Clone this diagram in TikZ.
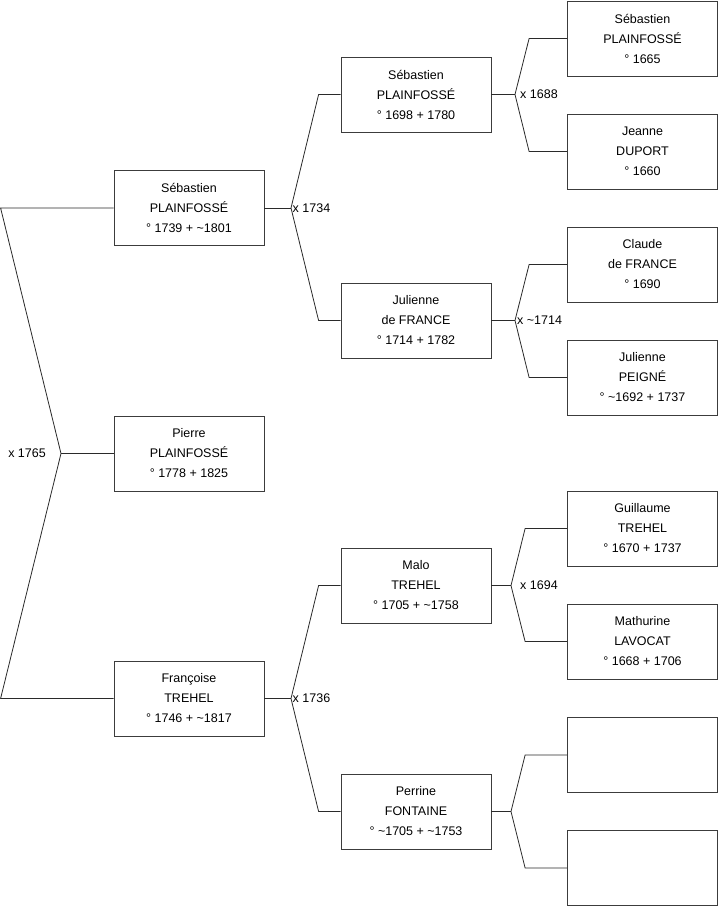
\documentclass[tikz,border=0pt]{standalone}
\usepackage{fontspec}
\setmainfont{Liberation Sans}
\usepackage{tikz}
\usetikzlibrary{positioning}
\definecolor{boxline}{HTML}{3C3C3C}
\definecolor{linkline}{HTML}{2A2A2A}
\tikzset{
  person/.style={draw=boxline, line width=0.8pt, fill=white, align=center, minimum width=150pt, minimum height=75pt, inner sep=0pt, font=\fontsize{12.5}{20}\selectfont},
  link/.style={draw=linkline, line width=0.8pt},
  wedding/.style={inner sep=0pt, font=\fontsize{12.5}{15}\selectfont}
}
\begin{document}
\begin{tikzpicture}[x=1pt, y=-1pt]
  \useasboundingbox[fill=white] (0,0) rectangle (719,908);
  % generation 1
  \node[person] (sebB) at (189,208) {Sébastien\\PLAINFOSSÉ\\° 1739 + \textasciitilde1801};
  \node[person] (pierre) at (189,453.5) {Pierre\\PLAINFOSSÉ\\° 1778 + 1825};
  \node[person] (franc) at (189,698.5) {Françoise\\TREHEL\\° 1746 + \textasciitilde1817};
  % generation 2
  \node[person] (sebC) at (416,94.5) {Sébastien\\PLAINFOSSÉ\\° 1698 + 1780};
  \node[person] (julB) at (416,320.5) {Julienne\\de FRANCE\\° 1714 + 1782};
  \node[person] (malo) at (416,585.5) {Malo\\TREHEL\\° 1705 + \textasciitilde1758};
  \node[person] (perrine) at (416,811.5) {Perrine\\FONTAINE\\° \textasciitilde1705 + \textasciitilde1753};
  % generation 3
  \node[person] (sebD) at (642.5,38.5) {Sébastien\\PLAINFOSSÉ\\° 1665};
  \node[person] (jeanne) at (642.5,151.5) {Jeanne\\DUPORT\\° 1660};
  \node[person] (claude) at (642.5,264.5) {Claude\\de FRANCE\\° 1690};
  \node[person] (julC) at (642.5,377.5) {Julienne\\PEIGNÉ\\° \textasciitilde1692 + 1737};
  \node[person] (guil) at (642.5,528.5) {Guillaume\\TREHEL\\° 1670 + 1737};
  \node[person] (math) at (642.5,641.5) {Mathurine\\LAVOCAT\\° 1668 + 1706};
  \node[person] (empA) at (642.5,755) {};
  \node[person] (empB) at (642.5,868) {};
  % marriage points
  \coordinate (m1765) at (61,453.5);
  \coordinate (m1734) at (291,208);
  \coordinate (m1736) at (291,698.5);
  \coordinate (m1688) at (515,94.5);
  \coordinate (m1714) at (515,320.5);
  \coordinate (m1694) at (511,585.5);
  \coordinate (mnone) at (511,811.5);
  \node[wedding, left=15pt of m1765] (l1765) {x 1765};
  \node[wedding, right=1.5pt of m1734] (l1734) {x 1734};
  \node[wedding, right=1.5pt of m1736] (l1736) {x 1736};
  \node[wedding, right=5pt of m1688] (l1688) {x 1688};
  \node[wedding, right=2pt of m1714] (l1714) {x \textasciitilde1714};
  \node[wedding, right=9pt of m1694] (l1694) {x 1694};
  % connectors
  \draw[link] (sebB.west) -- ++(-113,0) -- (m1765);
  \draw[link] (franc.west) -- ++(-113,0) -- (m1765);
  \draw[link] (m1765) -- (pierre.west);
  \draw[link] (sebB.east) -- (m1734);
  \draw[link] (sebC.west) -- ++(-22,0) -- (m1734);
  \draw[link] (julB.west) -- ++(-22,0) -- (m1734);
  \draw[link] (franc.east) -- (m1736);
  \draw[link] (malo.west) -- ++(-22,0) -- (m1736);
  \draw[link] (perrine.west) -- ++(-22,0) -- (m1736);
  \draw[link] (sebC.east) -- (m1688);
  \draw[link] (sebD.west) -- ++(-38,0) -- (m1688);
  \draw[link] (jeanne.west) -- ++(-38,0) -- (m1688);
  \draw[link] (julB.east) -- (m1714);
  \draw[link] (claude.west) -- ++(-38,0) -- (m1714);
  \draw[link] (julC.west) -- ++(-38,0) -- (m1714);
  \draw[link] (malo.east) -- (m1694);
  \draw[link] (guil.west) -- ++(-42,0) -- (m1694);
  \draw[link] (math.west) -- ++(-42,0) -- (m1694);
  \draw[link] (perrine.east) -- (mnone);
  \draw[link] (empA.west) -- ++(-42,0) -- (mnone);
  \draw[link] (empB.west) -- ++(-42,0) -- (mnone);
\end{tikzpicture}
\end{document}
